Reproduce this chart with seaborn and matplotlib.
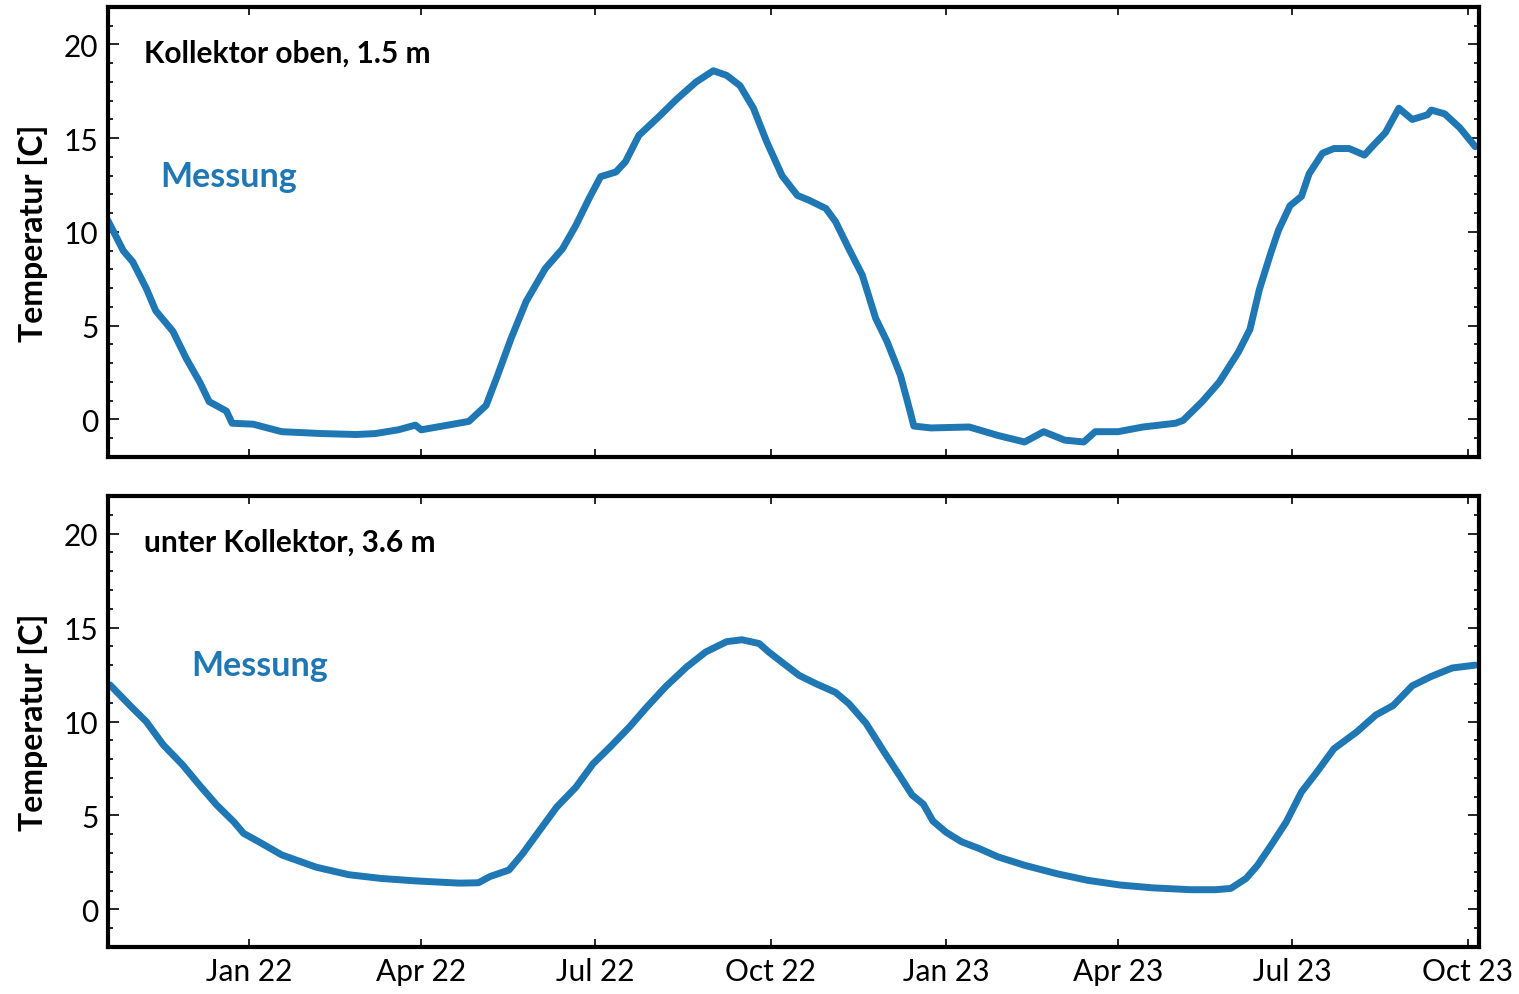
import matplotlib
matplotlib.use("Agg")
import matplotlib.pyplot as plt
import matplotlib.dates as mdates
from matplotlib.ticker import MultipleLocator
import pandas as pd
import seaborn as sns

# Soil temperature measured at the collector (1.5 m depth)
dates_top = [
    "2021-10-19", "2021-10-27", "2021-11-01", "2021-11-08", "2021-11-13", "2021-11-22",
    "2021-11-29", "2021-12-06", "2021-12-11", "2021-12-20", "2021-12-23", "2022-01-03",
    "2022-01-18", "2022-02-08", "2022-02-26", "2022-03-08", "2022-03-20", "2022-03-29",
    "2022-04-01", "2022-04-15", "2022-04-26", "2022-05-05", "2022-05-11", "2022-05-18",
    "2022-05-26", "2022-06-05", "2022-06-14", "2022-06-21", "2022-06-28", "2022-07-04",
    "2022-07-12", "2022-07-17", "2022-07-24", "2022-08-04", "2022-08-13", "2022-08-23",
    "2022-09-01", "2022-09-08", "2022-09-15", "2022-09-22", "2022-09-29", "2022-10-07",
    "2022-10-15", "2022-10-21", "2022-10-30", "2022-11-04", "2022-11-11", "2022-11-18",
    "2022-11-25", "2022-12-01", "2022-12-08", "2022-12-13", "2022-12-15", "2022-12-24",
    "2023-01-13", "2023-01-28", "2023-02-11", "2023-02-21", "2023-03-04", "2023-03-14",
    "2023-03-20", "2023-04-01", "2023-04-14", "2023-05-01", "2023-05-05", "2023-05-15",
    "2023-05-24", "2023-06-03", "2023-06-09", "2023-06-14", "2023-06-20", "2023-06-24",
    "2023-06-30", "2023-07-06", "2023-07-10", "2023-07-17", "2023-07-23", "2023-07-31",
    "2023-08-08", "2023-08-12", "2023-08-19", "2023-08-26", "2023-09-02", "2023-09-10",
    "2023-09-12", "2023-09-19", "2023-09-27", "2023-10-05",
]
temp_top = [
    10.6, 9.0, 8.4, 7.0, 5.8, 4.7,
    3.25, 2.0, 0.95, 0.45, -0.2, -0.25,
    -0.65, -0.75, -0.8, -0.75, -0.55, -0.3,
    -0.55, -0.3, -0.1, 0.75, 2.35, 4.3,
    6.3, 8.05, 9.1, 10.35, 11.8, 12.95,
    13.2, 13.75, 15.15, 16.2, 17.1, 18.0,
    18.6, 18.35, 17.8, 16.6, 14.8, 13.0,
    11.95, 11.7, 11.25, 10.55, 9.1, 7.7,
    5.4, 4.15, 2.35, 0.45, -0.35, -0.45,
    -0.4, -0.85, -1.2, -0.65, -1.1, -1.2,
    -0.65, -0.65, -0.4, -0.2, -0.05, 0.95,
    2.0, 3.6, 4.8, 6.95, 8.9, 10.1,
    11.4, 11.9, 13.1, 14.2, 14.45, 14.45,
    14.1, 14.55, 15.3, 16.6, 16.0, 16.25,
    16.5, 16.3, 15.55, 14.55,
]

# Soil temperature below the collector (3.6 m depth)
dates_bottom = [
    "2021-10-20", "2021-11-01", "2021-11-08", "2021-11-17", "2021-11-27", "2021-12-06",
    "2021-12-15", "2021-12-24", "2021-12-29", "2022-01-06", "2022-01-18", "2022-02-05",
    "2022-02-22", "2022-03-11", "2022-03-29", "2022-04-21", "2022-05-01", "2022-05-07",
    "2022-05-17", "2022-05-24", "2022-06-02", "2022-06-11", "2022-06-21", "2022-06-30",
    "2022-07-09", "2022-07-19", "2022-07-28", "2022-08-07", "2022-08-18", "2022-08-28",
    "2022-09-08", "2022-09-16", "2022-09-25", "2022-09-30", "2022-10-07", "2022-10-16",
    "2022-10-25", "2022-11-04", "2022-11-11", "2022-11-20", "2022-11-29", "2022-12-08",
    "2022-12-14", "2022-12-20", "2022-12-25", "2023-01-01", "2023-01-09", "2023-01-18",
    "2023-01-28", "2023-02-11", "2023-02-28", "2023-03-16", "2023-04-02", "2023-04-19",
    "2023-05-09", "2023-05-22", "2023-05-30", "2023-06-07", "2023-06-13", "2023-06-20",
    "2023-06-28", "2023-07-06", "2023-07-14", "2023-07-23", "2023-08-04", "2023-08-14",
    "2023-08-23", "2023-09-02", "2023-09-12", "2023-09-23", "2023-10-05",
]
temp_bottom = [
    11.95, 10.7, 10.0, 8.75, 7.7, 6.6,
    5.55, 4.65, 4.05, 3.6, 2.9, 2.25,
    1.85, 1.65, 1.52, 1.4, 1.42, 1.75,
    2.1, 2.95, 4.2, 5.45, 6.5, 7.75,
    8.65, 9.7, 10.75, 11.85, 12.9, 13.7,
    14.25, 14.35, 14.15, 13.7, 13.15, 12.45,
    12.0, 11.55, 10.95, 9.9, 8.45, 7.05,
    6.1, 5.6, 4.7, 4.1, 3.6, 3.25,
    2.8, 2.35, 1.9, 1.55, 1.3, 1.15,
    1.05, 1.05, 1.12, 1.65, 2.35, 3.4,
    4.65, 6.25, 7.3, 8.55, 9.45, 10.35,
    10.85, 11.9, 12.4, 12.85, 13.0,
]

panel_titles = ["Kollektor oben, 1.5 m", "unter Kollektor, 3.6 m"]
series_label = "Messung"
y_label = "Temperatur [C]"
x_start, x_end = "2021-10-19", "2023-10-07"

sns.set_theme(style="white")
plt.rcParams["font.family"] = ["Lato", "DejaVu Sans"]
plt.rcParams.update({
    "text.color": "black",
    "axes.labelcolor": "black",
    "xtick.color": "black",
    "ytick.color": "black",
})

blue = "#1f77b4"

fig = plt.figure(figsize=(15.19, 9.95), dpi=100)
ax_top = fig.add_axes([0.0711, 0.5397, 0.9026, 0.4523])
ax_bot = fig.add_axes([0.0711, 0.0472, 0.9026, 0.4533], sharex=ax_top)

frames = [
    pd.DataFrame({"Datum": pd.to_datetime(dates_top), "T": temp_top}),
    pd.DataFrame({"Datum": pd.to_datetime(dates_bottom), "T": temp_bottom}),
]
label_x = [0.038, 0.0605]

for ax, df, title, lx in zip([ax_top, ax_bot], frames, panel_titles, label_x):
    sns.lineplot(data=df, x="Datum", y="T", ax=ax, color=blue, linewidth=5.0)
    ax.set_ylim(-2, 22)
    ax.set_xlim(pd.Timestamp(x_start), pd.Timestamp(x_end))
    ax.yaxis.set_major_locator(MultipleLocator(5))
    ax.yaxis.set_minor_locator(MultipleLocator(1))
    ax.xaxis.set_major_locator(mdates.MonthLocator(bymonth=[1, 4, 7, 10]))
    ax.xaxis.set_major_formatter(mdates.DateFormatter("%b %y"))
    ax.tick_params(axis="y", which="major", direction="in", length=8, width=1.2,
                   left=True, right=True, labelsize=21.5, pad=7)
    ax.tick_params(axis="y", which="minor", direction="in", length=3.5, width=1.2,
                   left=True, right=True)
    ax.tick_params(axis="x", which="major", direction="in", length=6, width=1.2,
                   top=True, bottom=True, labelsize=21.5, pad=7)
    for sp in ax.spines.values():
        sp.set_linewidth(3)
        sp.set_color("black")
    ax.set_xlabel("")
    ax.set_ylabel(y_label, fontsize=23, fontweight="bold")
    ax.yaxis.set_label_coords(-0.044, 0.5)
    ax.text(0.026, 0.899, title, transform=ax.transAxes, fontsize=21.5,
            fontweight="bold", va="center", ha="left", color="black")
    ax.text(lx, 0.625, series_label, transform=ax.transAxes, fontsize=24.5,
            fontweight="bold", va="center", ha="left", color=blue)

ax_top.tick_params(axis="x", labelbottom=False)

fig.savefig("out.png", dpi=100)
